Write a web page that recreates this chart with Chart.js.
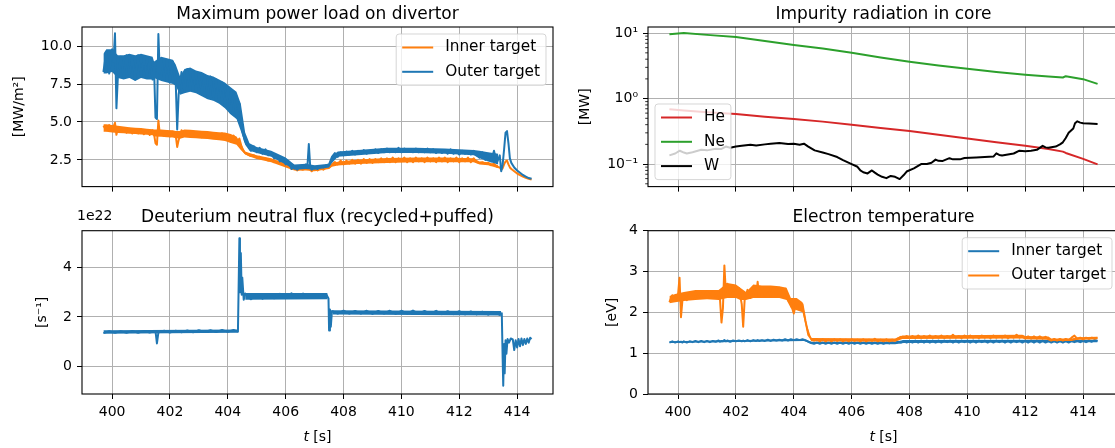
<!DOCTYPE html>
<html>
<head>
<meta charset="utf-8">
<script src="https://cdn.jsdelivr.net/npm/chart.js@4.4.0/dist/chart.umd.min.js"></script>
<style>
  html, body { margin: 0; padding: 0; background: #fff; overflow: hidden; }
  body { position: relative; width: 1115px; height: 448px; }
  canvas { position: absolute; }
</style>
</head>
<body>
<canvas id="loadChart" width="560" height="200" style="left:0;top:0"></canvas>
<canvas id="radChart" width="560" height="200" style="left:566px;top:0"></canvas>
<canvas id="fluxChart" width="560" height="248" style="left:0;top:200px"></canvas>
<canvas id="teChart" width="560" height="248" style="left:566px;top:200px"></canvas>
<script>
// ---- ticks ----
const timeTicks = [400, 402, 404, 406, 408, 410, 412, 414];
const loadTicks = [2.5, 5, 7.5, 10];
const loadTickLabels = ['2.5', '5.0', '7.5', '10.0'];
const radTicks = [0.1, 1, 10];
const radTickLabels = ['10⁻¹', '10⁰', '10¹'];
const radMinorTicks = [0.05, 0.06, 0.07, 0.08, 0.09, 0.2, 0.3, 0.4, 0.5, 0.6, 0.7, 0.8, 0.9, 2, 3, 4, 5, 6, 7, 8, 9];
const fluxTicks = [0, 2, 4];
const fluxTickLabels = ['0', '2', '4'];
const teTicks = [0, 1, 2, 3, 4];
const teTickLabels = ['0', '1', '2', '3', '4'];

// ---- maximum power load on divertor [MW/m2] ----
const tLoad = [
  399.7, 399.8, 399.9, 400.0, 400.05, 400.1, 400.15, 400.2, 400.3, 400.4,
  400.5, 400.6, 400.7, 400.8, 400.9, 401.0, 401.1, 401.2, 401.3, 401.4,
  401.45, 401.5, 401.55, 401.6, 401.65, 401.7, 401.8, 401.9, 402.0, 402.1,
  402.2, 402.25, 402.3, 402.4, 402.5, 402.6, 402.7, 402.8, 402.9, 403.0,
  403.1, 403.2, 403.3, 403.4, 403.5, 403.6, 403.7, 403.8, 403.9, 404.0,
  404.1, 404.2, 404.3, 404.4, 404.5, 404.6, 404.7, 404.8, 404.9, 405.0,
  405.1, 405.2, 405.3, 405.4, 405.5, 405.6, 405.7, 405.8, 405.9, 406.0,
  406.1, 406.2, 406.3, 406.4, 406.5, 406.6, 406.7, 406.75, 406.8, 406.85,
  406.9, 407.0, 407.1, 407.2, 407.3, 407.4, 407.5, 407.6, 407.7, 407.8,
  407.9, 408.0, 408.1, 408.2, 408.3, 408.4, 408.5, 408.6, 408.7, 408.8,
  408.9, 409.0, 409.1, 409.2, 409.3, 409.4, 409.5, 409.6, 409.7, 409.8,
  409.9, 410.0, 410.1, 410.2, 410.3, 410.4, 410.5, 410.6, 410.7, 410.8,
  410.9, 411.0, 411.1, 411.2, 411.3, 411.4, 411.5, 411.6, 411.7, 411.8,
  411.9, 412.0, 412.1, 412.2, 412.3, 412.4, 412.5, 412.6, 412.7, 412.8,
  412.9, 413.0, 413.1, 413.2, 413.3, 413.4, 413.45, 413.5, 413.55, 413.6,
  413.65, 413.7, 413.75, 413.8, 413.9, 414.0, 414.1, 414.2, 414.3, 414.4,
  414.5
];
const innerLoad = [
  4.75, 4.45, 4.8, 4.4, 4.7, 4.95, 4.15, 4.6, 4.35, 4.6,
  4.3, 4.55, 4.25, 4.5, 4.25, 4.5, 4.2, 4.45, 4.15, 4.45,
  4.2, 3.6, 3.5, 5.1, 4.2, 4.4, 4.1, 4.4, 4.05, 4.35,
  4.1, 3.35, 3.8, 4.45, 4.1, 4.4, 4.05, 4.35, 4.05, 4.3,
  4.0, 4.3, 3.95, 4.25, 3.95, 4.2, 3.9, 4.25, 3.85, 4.15,
  3.7, 4.1, 3.65, 3.9, 3.2, 2.95, 2.85, 2.75, 2.8, 2.65,
  2.7, 2.55, 2.6, 2.45, 2.5, 2.35, 2.4, 2.25, 2.3, 2.1,
  2.15, 1.9, 1.95, 1.8, 1.9, 1.85, 1.95, 1.9, 2.05, 1.85,
  1.75, 1.9, 1.8, 1.95, 1.85, 2.0, 2.0, 2.2, 2.35, 2.2,
  2.45, 2.2, 2.45, 2.25, 2.5, 2.25, 2.5, 2.25, 2.55, 2.3,
  2.55, 2.3, 2.55, 2.35, 2.6, 2.35, 2.6, 2.35, 2.65, 2.35,
  2.6, 2.4, 2.65, 2.35, 2.6, 2.35, 2.65, 2.4, 2.6, 2.35,
  2.65, 2.4, 2.6, 2.35, 2.65, 2.4, 2.65, 2.35, 2.6, 2.4,
  2.65, 2.35, 2.6, 2.4, 2.65, 2.35, 2.6, 2.35, 2.3, 2.35,
  2.25, 2.3, 2.15, 2.25, 2.05, 2.0, 1.85, 1.95, 2.2, 2.4,
  2.45, 2.2, 2.0, 1.9, 1.75, 1.6, 1.5, 1.4, 1.32, 1.25,
  1.2
];
const outerLoad = [
  8.3, 9.6, 8.2, 9.8, 9.0, 10.85, 5.9, 8.0, 9.3, 7.9,
  9.4, 8.0, 9.3, 7.8, 9.4, 8.0, 9.3, 7.9, 9.2, 7.8,
  8.6, 5.3, 5.2, 10.8, 8.2, 9.2, 7.8, 9.1, 7.6, 9.0,
  7.6, 4.5, 6.8, 8.3, 7.0, 8.5, 7.1, 8.3, 7.0, 8.2,
  6.9, 8.1, 6.6, 8.0, 6.5, 7.8, 6.4, 7.6, 6.1, 7.3,
  5.6, 7.0, 5.3, 6.2, 4.4, 3.7, 3.5, 3.1, 3.4, 3.0,
  3.3, 2.9, 3.2, 2.8, 3.0, 2.6, 2.8, 2.4, 2.6, 2.2,
  2.4, 1.9, 2.1, 1.85, 2.1, 2.0, 2.2, 2.0, 3.55, 2.0,
  1.85, 2.05, 1.9, 2.1, 2.0, 2.15, 2.2, 2.7, 2.95, 2.7,
  3.0, 2.8, 3.05, 2.85, 3.1, 2.85, 3.1, 2.9, 3.15, 2.9,
  3.1, 2.95, 3.2, 2.95, 3.2, 3.0, 3.25, 3.0, 3.2, 3.0,
  3.3, 3.0, 3.25, 3.05, 3.2, 3.0, 3.25, 3.0, 3.2, 3.0,
  3.25, 3.0, 3.2, 2.95, 3.15, 2.95, 3.15, 2.9, 3.2, 2.9,
  3.1, 2.85, 3.1, 2.9, 3.05, 2.85, 3.1, 2.8, 2.65, 3.0,
  2.5, 2.8, 2.4, 3.1, 2.3, 2.8, 1.75, 2.2, 3.2, 4.3,
  4.4, 3.6, 2.6, 2.3, 2.0, 1.8, 1.65, 1.5, 1.4, 1.3,
  1.25
];
// noise band edges (top / bottom of the fuzz)
const tLoadBand = [
  399.7, 399.8, 400.0, 400.2, 400.4, 400.6, 400.8, 401.0, 401.2, 401.4,
  401.45, 401.7, 401.9, 402.1, 402.2, 402.35, 402.5, 402.7, 402.9, 403.1,
  403.3, 403.5, 403.7, 403.9, 404.1, 404.3, 404.45, 404.6, 404.75, 405.0,
  405.5, 406.0, 406.3, 406.7, 407.0, 407.5, 407.6, 407.8, 408.5, 409.5,
  410.5, 411.5, 412.5, 412.7, 413.0, 413.35
];
const outerLoadTop = [
  9.5, 9.8, 9.8, 9.4, 9.4, 9.5, 9.4, 9.5, 9.4, 9.3,
  9.0, 9.3, 9.2, 9.1, 8.8, 8.0, 8.5, 8.6, 8.4, 8.3,
  8.1, 8.0, 7.8, 7.6, 7.3, 7.0, 6.2, 4.3, 3.6, 3.35,
  3.1, 2.65, 2.2, 2.25, 2.15, 2.25, 2.75, 3.05, 3.15, 3.3,
  3.3, 3.25, 3.15, 3.1, 3.0, 2.9
];
const outerLoadBottom = [
  8.2, 8.2, 8.3, 7.9, 7.8, 7.9, 7.7, 7.9, 7.8, 7.8,
  7.9, 7.7, 7.6, 7.5, 7.4, 6.8, 6.9, 7.0, 6.9, 6.7,
  6.5, 6.4, 6.2, 5.9, 5.5, 5.2, 4.4, 3.5, 3.1, 2.95,
  2.7, 2.2, 1.85, 1.9, 1.85, 2.0, 2.3, 2.7, 2.8, 2.95,
  2.95, 2.9, 2.8, 2.6, 2.4, 2.2
];
const innerLoadTop = [
  4.85, 4.85, 4.8, 4.75, 4.7, 4.65, 4.62, 4.6, 4.55, 4.52,
  4.5, 4.5, 4.47, 4.45, 4.4, 4.4, 4.5, 4.48, 4.45, 4.42,
  4.4, 4.35, 4.32, 4.3, 4.2, 4.05, 3.6, 3.05, 2.95, 2.8,
  2.6, 2.25, 2.0, 2.0, 1.95, 2.05, 2.25, 2.38, 2.52, 2.62,
  2.65, 2.65, 2.6, 2.4, 2.35, 2.15
];
const innerLoadBottom = [
  4.35, 4.35, 4.3, 4.28, 4.25, 4.22, 4.2, 4.17, 4.15, 4.12,
  4.05, 4.02, 4.0, 3.97, 3.92, 3.9, 3.97, 3.95, 3.92, 3.9,
  3.87, 3.83, 3.8, 3.75, 3.62, 3.5, 3.15, 2.85, 2.72, 2.55,
  2.35, 2.0, 1.8, 1.8, 1.75, 1.9, 2.05, 2.12, 2.22, 2.3,
  2.35, 2.35, 2.35, 2.2, 2.15, 1.95
];

// ---- impurity radiation in core [MW] ----
const tImp = [399.7, 400.2, 401, 402, 403, 404, 405, 406, 407, 408, 409, 410, 411, 412, 412.8, 413.3, 413.4, 414, 414.5];
const heRad = [0.69, 0.66, 0.62, 0.58, 0.53, 0.49, 0.445, 0.40, 0.355, 0.32, 0.28, 0.245, 0.215, 0.19, 0.17, 0.155, 0.148, 0.12, 0.099];
const neRad = [9.6, 10.0, 9.4, 8.7, 7.6, 6.6, 5.8, 5.0, 4.25, 3.65, 3.2, 2.85, 2.55, 2.32, 2.18, 2.1, 2.2, 1.98, 1.68];
const tW = [
  399.7, 399.9, 400.06, 400.2, 400.3, 400.5, 400.8, 401.0, 401.3, 401.5,
  401.65, 401.8, 402.0, 402.2, 402.5, 402.7, 403.0, 403.2, 403.5, 403.8,
  404.0, 404.2, 404.35, 404.5, 404.72, 405.0, 405.2, 405.5, 405.7, 406.0,
  406.2, 406.3, 406.4, 406.55, 406.7, 406.8, 406.9, 407.05, 407.2, 407.35,
  407.5, 407.66, 407.8, 407.9, 408.15, 408.4, 408.6, 408.76, 408.9, 409.0,
  409.13, 409.38, 409.5, 409.74, 409.9, 410.1, 410.3, 410.6, 410.9, 411.0,
  411.1, 411.2, 411.4, 411.6, 411.8, 412.0, 412.2, 412.4, 412.6, 412.7,
  412.8, 413.05, 413.2, 413.3, 413.4, 413.5, 413.66, 413.72, 413.8, 413.9,
  414.0, 414.2, 414.5
];
const wRad = [
  0.136, 0.145, 0.16, 0.15, 0.145, 0.152, 0.166, 0.162, 0.172, 0.17,
  0.185, 0.178, 0.185, 0.19, 0.197, 0.192, 0.2, 0.205, 0.21, 0.203,
  0.204, 0.198, 0.205, 0.185, 0.162, 0.15, 0.142, 0.128, 0.115, 0.1,
  0.091, 0.08, 0.075, 0.072, 0.08, 0.074, 0.069, 0.064, 0.061, 0.066,
  0.064, 0.059, 0.068, 0.077, 0.086, 0.1, 0.1, 0.105, 0.117, 0.112,
  0.111, 0.123, 0.118, 0.118, 0.124, 0.125, 0.126, 0.128, 0.13, 0.146,
  0.138, 0.135, 0.14, 0.145, 0.16, 0.157, 0.16, 0.165, 0.19, 0.18,
  0.177, 0.185, 0.2, 0.215, 0.25, 0.30, 0.35, 0.42, 0.45, 0.43,
  0.42, 0.415, 0.41
];

// ---- deuterium neutral flux [1e22 s^-1] ----
const tFlux = [
  399.7, 399.9, 400.1, 400.3, 400.5, 400.7, 400.9, 401.1, 401.3, 401.5,
  401.55, 401.6, 401.8, 402.0, 402.2, 402.4, 402.6, 402.8, 403.0, 403.2,
  403.4, 403.6, 403.8, 404.0, 404.2, 404.35, 404.4, 404.42, 404.45, 404.48,
  404.5, 404.55, 404.6, 404.8, 405.0, 405.2, 405.4, 405.6, 405.8, 406.0,
  406.2, 406.4, 406.6, 406.8, 407.0, 407.2, 407.4, 407.48, 407.5, 407.53,
  407.56, 407.6, 407.8, 408.0, 408.2, 408.4, 408.6, 408.8, 409.0, 409.2,
  409.4, 409.6, 409.8, 410.0, 410.2, 410.4, 410.6, 410.8, 411.0, 411.2,
  411.4, 411.6, 411.8, 412.0, 412.2, 412.4, 412.6, 412.8, 413.0, 413.2,
  413.4, 413.47, 413.5, 413.52, 413.55, 413.57, 413.6, 413.63, 413.67, 413.72,
  413.78, 413.85, 413.9, 413.95, 414.0, 414.05, 414.1, 414.15, 414.2, 414.25,
  414.3, 414.35, 414.4, 414.45, 414.5
];
const flux = [
  1.34, 1.42, 1.35, 1.42, 1.35, 1.43, 1.35, 1.43, 1.36, 1.42,
  0.92, 1.36, 1.44, 1.36, 1.44, 1.37, 1.45, 1.37, 1.46, 1.38,
  1.46, 1.38, 1.47, 1.39, 1.47, 1.40, 5.2, 3.0, 4.6, 2.9,
  3.6, 2.7, 2.95, 2.72, 2.9, 2.74, 2.92, 2.76, 2.94, 2.78,
  2.96, 2.8, 2.95, 2.78, 2.93, 2.77, 2.92, 2.75, 1.45, 2.3,
  1.6, 2.24, 2.13, 2.25, 2.13, 2.24, 2.13, 2.25, 2.12, 2.24,
  2.13, 2.25, 2.12, 2.25, 2.13, 2.26, 2.12, 2.24, 2.12, 2.25,
  2.11, 2.23, 2.11, 2.23, 2.1, 2.22, 2.1, 2.21, 2.09, 2.2,
  2.08, 2.15, 0.3, -0.8, 0.9, -0.3, 1.05, 0.5, 1.1, 0.95,
  1.12, 1.08, 0.65, 1.05, 0.75, 1.1, 0.8, 1.12, 0.85, 1.1,
  0.9, 1.12, 0.95, 1.15, 1.1
];
const tFluxBand = [399.7, 404.35, 404.35, 404.6, 407.45, 407.45, 407.62, 413.45];
const fluxTop = [1.46, 1.49, null, 2.97, 2.97, null, 2.27, 2.24];
const fluxBottom = [1.31, 1.35, null, 2.7, 2.72, null, 2.1, 2.06];

// ---- electron temperature [eV] ----
const tTe = [
  399.7, 399.8, 399.9, 400.0, 400.05, 400.1, 400.15, 400.2, 400.3, 400.4,
  400.5, 400.6, 400.7, 400.8, 400.9, 401.0, 401.1, 401.2, 401.3, 401.4,
  401.45, 401.5, 401.55, 401.6, 401.65, 401.7, 401.8, 401.9, 402.0, 402.1,
  402.2, 402.25, 402.3, 402.4, 402.5, 402.6, 402.7, 402.75, 402.8, 402.9,
  403.0, 403.1, 403.2, 403.3, 403.4, 403.5, 403.6, 403.7, 403.8, 403.9,
  404.0, 404.1, 404.2, 404.3, 404.4, 404.5, 404.6, 404.7, 404.8, 404.9,
  405.0, 405.1, 405.2, 405.3, 405.4, 405.5, 405.6, 405.7, 405.8, 405.9,
  406.0, 406.1, 406.2, 406.3, 406.4, 406.5, 406.6, 406.7, 406.8, 406.9,
  407.0, 407.1, 407.2, 407.3, 407.4, 407.5, 407.6, 407.7, 407.8, 407.9,
  408.0, 408.1, 408.2, 408.3, 408.4, 408.5, 408.6, 408.7, 408.8, 408.9,
  409.0, 409.1, 409.2, 409.3, 409.4, 409.5, 409.6, 409.7, 409.8, 409.9,
  410.0, 410.1, 410.2, 410.3, 410.4, 410.5, 410.6, 410.7, 410.8, 410.9,
  411.0, 411.1, 411.2, 411.3, 411.4, 411.5, 411.6, 411.7, 411.8, 411.9,
  412.0, 412.1, 412.2, 412.3, 412.4, 412.5, 412.6, 412.7, 412.8, 412.9,
  413.0, 413.1, 413.2, 413.3, 413.4, 413.5, 413.6, 413.7, 413.8, 413.9,
  414.0, 414.1, 414.2, 414.3, 414.4, 414.5
];
const innerTe = [
  1.26, 1.29, 1.26, 1.29, 1.27, 1.28, 1.26, 1.29, 1.26, 1.29,
  1.27, 1.30, 1.27, 1.30, 1.27, 1.30, 1.27, 1.30, 1.28, 1.31,
  1.28, 1.30, 1.29, 1.32, 1.29, 1.31, 1.28, 1.31, 1.29, 1.31,
  1.29, 1.31, 1.29, 1.32, 1.29, 1.32, 1.30, 1.32, 1.30, 1.32,
  1.30, 1.33, 1.30, 1.33, 1.31, 1.33, 1.31, 1.34, 1.31, 1.34,
  1.32, 1.34, 1.32, 1.34, 1.32, 1.28, 1.25, 1.23, 1.26, 1.23,
  1.26, 1.23, 1.26, 1.23, 1.26, 1.23, 1.26, 1.23, 1.26, 1.23,
  1.26, 1.23, 1.26, 1.23, 1.26, 1.23, 1.26, 1.23, 1.26, 1.23,
  1.26, 1.23, 1.26, 1.24, 1.27, 1.25, 1.28, 1.26, 1.30, 1.26,
  1.30, 1.26, 1.31, 1.26, 1.31, 1.26, 1.31, 1.26, 1.31, 1.26,
  1.31, 1.26, 1.31, 1.27, 1.31, 1.26, 1.31, 1.26, 1.31, 1.27,
  1.31, 1.26, 1.31, 1.26, 1.31, 1.27, 1.31, 1.26, 1.31, 1.26,
  1.31, 1.27, 1.31, 1.26, 1.31, 1.26, 1.31, 1.27, 1.31, 1.26,
  1.31, 1.26, 1.31, 1.26, 1.31, 1.26, 1.31, 1.26, 1.30, 1.26,
  1.30, 1.26, 1.30, 1.26, 1.30, 1.26, 1.30, 1.27, 1.30, 1.27,
  1.31, 1.27, 1.31, 1.28, 1.32, 1.30
];
const outerTe = [
  2.25, 2.42, 2.30, 2.45, 2.85, 1.88, 2.30, 2.40, 2.30, 2.45,
  2.33, 2.50, 2.35, 2.48, 2.36, 2.52, 2.35, 2.50, 2.38, 2.50,
  2.30, 1.75, 2.10, 3.15, 2.50, 2.70, 2.45, 2.65, 2.45, 2.60,
  2.20, 1.65, 2.30, 2.55, 2.35, 2.60, 2.40, 2.75, 2.40, 2.62,
  2.42, 2.60, 2.40, 2.62, 2.42, 2.60, 2.40, 2.58, 2.30, 2.20,
  1.97, 2.30, 2.12, 2.20, 1.80, 1.45, 1.35, 1.31, 1.34, 1.29,
  1.34, 1.29, 1.33, 1.29, 1.34, 1.30, 1.34, 1.29, 1.33, 1.29,
  1.34, 1.30, 1.33, 1.29, 1.34, 1.29, 1.33, 1.30, 1.35, 1.29,
  1.33, 1.29, 1.34, 1.29, 1.33, 1.31, 1.36, 1.40, 1.37, 1.42,
  1.37, 1.42, 1.37, 1.43, 1.37, 1.42, 1.38, 1.43, 1.37, 1.42,
  1.38, 1.43, 1.37, 1.42, 1.38, 1.45, 1.38, 1.42, 1.37, 1.43,
  1.38, 1.43, 1.38, 1.42, 1.37, 1.43, 1.38, 1.42, 1.37, 1.43,
  1.38, 1.42, 1.38, 1.43, 1.37, 1.42, 1.38, 1.45, 1.38, 1.42,
  1.36, 1.41, 1.36, 1.41, 1.36, 1.41, 1.36, 1.40, 1.34, 1.31,
  1.35, 1.31, 1.35, 1.31, 1.35, 1.32, 1.38, 1.43, 1.35, 1.38,
  1.34, 1.38, 1.35, 1.38, 1.36, 1.38
];
const tTeBand = [
  399.7, 399.9, 400.2, 400.6, 401.0, 401.4, 401.7, 402.0, 402.15, 402.35,
  402.6, 402.9, 403.2, 403.5, 403.75, 403.9, 404.1, 404.3, 404.45, 404.6,
  407.5, 407.75, 411.9, 412.0, 412.8, 412.9, 413.6, 413.8, 414.5
];
const outerTeTop = [
  2.4, 2.45, 2.5, 2.55, 2.55, 2.55, 2.72, 2.68, 2.6, 2.5,
  2.68, 2.66, 2.66, 2.64, 2.6, 2.35, 2.35, 2.25, 1.7, 1.37,
  1.36, 1.43, 1.45, 1.42, 1.41, 1.36, 1.36, 1.39, 1.4
];
const outerTeBottom = [
  2.22, 2.25, 2.28, 2.3, 2.32, 2.3, 2.35, 2.35, 2.3, 2.3,
  2.35, 2.35, 2.35, 2.35, 2.3, 2.1, 2.05, 2.0, 1.55, 1.29,
  1.28, 1.35, 1.36, 1.34, 1.33, 1.3, 1.3, 1.33, 1.34
];
const tTeInnerBand = [399.7, 404.35, 404.6, 407.5, 407.8, 414.5];
const innerTeTop = [1.29, 1.35, 1.28, 1.28, 1.32, 1.33];
const innerTeBottom = [1.25, 1.3, 1.23, 1.22, 1.25, 1.27];

// ---- look ----
const FONT = 'DejaVu Sans';
const BLUE = '#1f77b4', ORANGE = '#ff7f0e', GREEN = '#2ca02c', RED = '#d62728', BLACK = '#000000';
const GRID = '#b0b0b0';
const tickFont = { family: FONT, size: 14, lineHeight: 1.2 };
Chart.defaults.font.family = FONT;

// frame, title, minor ticks, offset text, x label and legend drawn like matplotlib
const decor = {
  id: 'decor',
  afterDatasetsDraw(chart, args, o) {
    const { ctx, chartArea: a } = chart;
    ctx.save();
    ctx.strokeStyle = '#000';
    ctx.lineWidth = 1.1;
    ctx.strokeRect(a.left, a.top, a.right - a.left, a.bottom - a.top);
    if (o.minor) {
      const ys = chart.scales.y;
      ctx.lineWidth = 0.8;
      ctx.beginPath();
      o.minor.forEach(v => {
        const p = ys.getPixelForValue(v);
        ctx.moveTo(a.left, p);
        ctx.lineTo(a.left - 2.8, p);
      });
      ctx.stroke();
    }
    ctx.fillStyle = '#000';
    ctx.textBaseline = 'alphabetic';
    ctx.font = `17px "${FONT}"`;
    ctx.textAlign = 'center';
    ctx.fillText(o.title, (a.left + a.right) / 2, a.top - 8.3);
    if (o.offsetText) {
      ctx.font = `14px "${FONT}"`;
      ctx.textAlign = 'left';
      ctx.fillText(o.offsetText, a.left - 5, a.top - 10.7);
    }
    if (o.xTitle) {
      ctx.textAlign = 'left';
      ctx.font = `italic 14px "${FONT}"`;
      const w1 = ctx.measureText('t').width;
      ctx.font = `14px "${FONT}"`;
      const w2 = ctx.measureText(' [s]').width;
      const x0 = (a.left + a.right) / 2 - (w1 + w2) / 2;
      const y0 = a.bottom + 47;
      ctx.font = `italic 14px "${FONT}"`;
      ctx.fillText('t', x0, y0);
      ctx.font = `14px "${FONT}"`;
      ctx.fillText(' [s]', x0 + w1, y0);
    }
    ctx.restore();
  },
  afterDraw(chart, args, o) {
    if (!o.legend) return;
    const { ctx, chartArea: a } = chart;
    const items = chart.data.datasets.filter(d => !d.band).map(d => ({ text: d.label, color: d.borderColor }));
    ctx.save();
    ctx.font = `15.3px "${FONT}"`;
    const tw = Math.max(...items.map(i => ctx.measureText(i.text).width));
    const w = 49 + tw + 6;
    const h = 27 + (items.length - 1) * 24.3;
    const left = o.legend === 'upper right' ? a.right - 7 - w : a.left + 7;
    const top = o.legend === 'upper right' ? a.top + 7 : a.bottom - 7 - h;
    ctx.beginPath();
    if (ctx.roundRect) ctx.roundRect(left, top, w, h, 3); else ctx.rect(left, top, w, h);
    ctx.fillStyle = 'rgba(255,255,255,0.8)';
    ctx.fill();
    ctx.strokeStyle = 'rgba(204,204,204,0.8)';
    ctx.lineWidth = 1;
    ctx.stroke();
    ctx.textAlign = 'left';
    ctx.textBaseline = 'middle';
    items.forEach((it, i) => {
      const cy = top + 13.5 + i * 24.3;
      ctx.strokeStyle = it.color;
      ctx.lineWidth = 2;
      ctx.beginPath();
      ctx.moveTo(left + 6, cy);
      ctx.lineTo(left + 37, cy);
      ctx.stroke();
      ctx.fillStyle = '#000';
      ctx.fillText(it.text, left + 49, cy);
    });
    ctx.restore();
  }
};

const pts = (t, v) => t.map((x, i) => ({ x, y: v[i] }));

function series(label, t, v, color, order) {
  return {
    label,
    data: pts(t, v),
    borderColor: color,
    backgroundColor: color,
    borderWidth: 2,
    borderJoinStyle: 'round',
    pointRadius: 0,
    fill: false,
    order
  };
}

// the dense noise of a signal: filled between its upper and lower edge
function band(t, top, bottom, color, order) {
  const common = { band: true, borderWidth: 0, borderColor: 'rgba(0,0,0,0)', backgroundColor: color, pointRadius: 0, spanGaps: false, order };
  return [
    { ...common, data: pts(t, top), fill: '+1' },
    { ...common, data: pts(t, bottom), fill: false }
  ];
}

function timeAxis(showLabels, height) {
  return {
    type: 'linear',
    min: 398.96,
    max: 415.24,
    afterBuildTicks: s => { s.ticks = timeTicks.map(value => ({ value })); },
    afterFit: s => { s.height = height; },
    ticks: { display: showLabels, font: tickFont, color: '#000', padding: 5, maxRotation: 0, autoSkip: false, callback: v => String(v) },
    grid: { color: GRID, lineWidth: 1, tickColor: '#000', tickLength: 5 },
    border: { display: false }
  };
}

function valueAxis(type, min, max, ticks, labels, title, titlePad) {
  return {
    type, min, max,
    afterBuildTicks: s => { s.ticks = ticks.map(value => ({ value })); },
    afterFit: s => { s.width = 82; },
    ticks: { font: tickFont, color: '#000', padding: 5, autoSkip: false, callback: (v, i) => labels[i] },
    grid: { color: GRID, lineWidth: 1, tickColor: '#000', tickLength: 5 },
    border: { display: false },
    title: { display: true, text: title, color: '#000', font: { family: FONT, size: 14, lineHeight: 1.2 }, padding: { top: titlePad, bottom: 0 } }
  };
}

function makeChart(id, cfg) {
  return new Chart(document.getElementById(id), {
    type: 'line',
    data: { datasets: cfg.datasets },
    options: {
      responsive: false,
      animation: false,
      devicePixelRatio: 1,
      events: [],
      layout: { padding: { top: cfg.top, right: 7, left: 0, bottom: 0 } },
      plugins: { legend: { display: false }, tooltip: { enabled: false }, decor: cfg.decor },
      scales: { x: timeAxis(cfg.xLabels, cfg.xHeight), y: cfg.y }
    },
    plugins: [decor]
  });
}

makeChart('loadChart', {
  top: 27, xLabels: false, xHeight: 10,
  datasets: [
    ...band(tLoadBand, innerLoadTop, innerLoadBottom, ORANGE, 3),
    series('Inner target', tLoad, innerLoad, ORANGE, 2),
    ...band(tLoadBand, outerLoadTop, outerLoadBottom, BLUE, 1),
    series('Outer target', tLoad, outerLoad, BLUE, 0)
  ],
  y: valueAxis('linear', 0.735, 11.27, loadTicks, loadTickLabels, '[MW/m²]', 10.6),
  decor: { title: 'Maximum power load on divertor', legend: 'upper right' }
});

makeChart('radChart', {
  top: 27, xLabels: false, xHeight: 10,
  datasets: [
    series('He', tImp, heRad, RED, 2),
    series('Ne', tImp, neRad, GREEN, 1),
    series('W', tW, wRad, BLACK, 0)
  ],
  y: valueAxis('logarithmic', 0.0453, 12.4, radTicks, radTickLabels, '[MW]', 10.6),
  decor: { title: 'Impurity radiation in core', legend: 'lower left', minor: radMinorTicks }
});

makeChart('fluxChart', {
  top: 30.7, xLabels: true, xHeight: 54,
  datasets: [
    ...band(tFluxBand, fluxTop, fluxBottom, BLUE, 1),
    series('Deuterium neutral flux', tFlux, flux, BLUE, 0)
  ],
  y: valueAxis('linear', -1.14, 5.51, fluxTicks, fluxTickLabels, '[s⁻¹]', 33.6),
  decor: { title: 'Deuterium neutral flux (recycled+puffed)', offsetText: '1e22', xTitle: true }
});

makeChart('teChart', {
  top: 30.7, xLabels: true, xHeight: 54,
  datasets: [
    ...band(tTeInnerBand, innerTeTop, innerTeBottom, BLUE, 3),
    series('Inner target', tTe, innerTe, BLUE, 2),
    ...band(tTeBand, outerTeTop, outerTeBottom, ORANGE, 1),
    series('Outer target', tTe, outerTe, ORANGE, 0)
  ],
  y: valueAxis('linear', 0, 4, teTicks, teTickLabels, '[eV]', 37.6),
  decor: { title: 'Electron temperature', legend: 'upper right', xTitle: true }
});
</script>
</body>
</html>
